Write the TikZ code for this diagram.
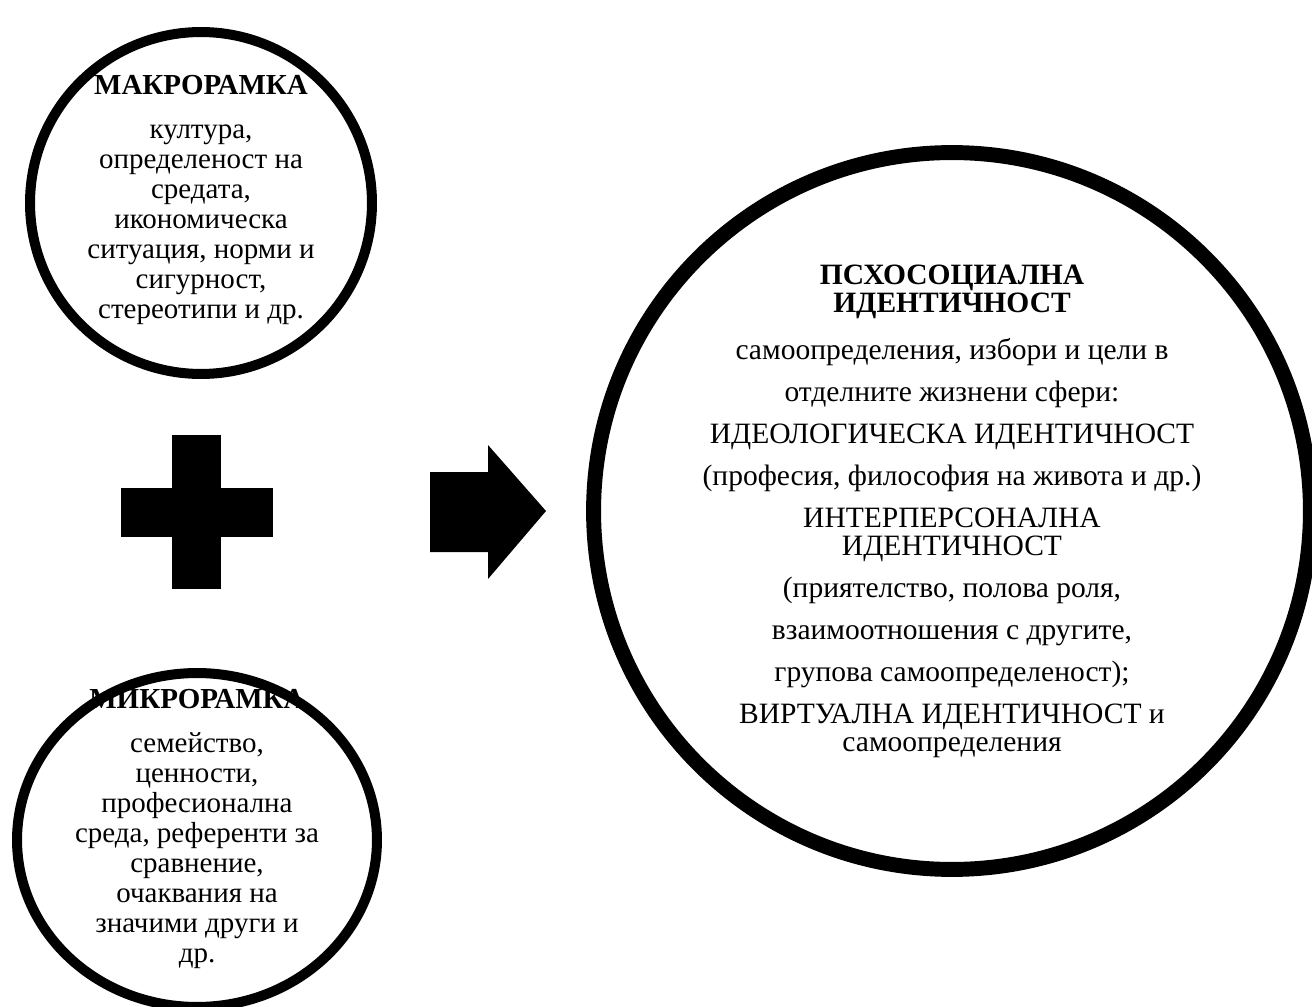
\documentclass[tikz,border=0pt]{standalone}
\usepackage{fontspec}
\setmainfont{Liberation Serif}
\usepackage{tikz}
\usetikzlibrary{shapes.geometric}
\def\ringnode{\node[circle,draw,line width=5.7pt,inner sep=0pt]}
\def\textnode{\node[align=center,inner sep=0pt,font=\fontsize{16.5}{17.1}\selectfont]}

\begin{document}
\begin{tikzpicture}[x=0.02cm,y=-0.02cm]
\useasboundingbox (0,0) rectangle (1312,1007);
\clip (0,0) rectangle (1312,1007);
\ringnode[minimum size=6.84cm] (macro) at (201,203) {};
\node[ellipse,draw,line width=5.7pt,inner sep=0pt,minimum width=7.2cm,minimum height=6.68cm] (micro) at (197,840) {};
\ringnode[line width=8.5pt,minimum size=14.34cm] (psycho) at (952,511) {};
\textnode (macrotext) at (201,200) {\textbf{МАКРОРАМКА}\\[8pt]
  култура,\\ определеност на\\ средата,\\ икономическа\\ ситуация, норми и\\ сигурност,\\ стереотипи и др.};
\textnode (microtext) at (197,829) {\textbf{МИКРОРАМКА}\\[8pt]
  семейство,\\ ценности,\\ професионална\\ среда, референти за\\ сравнение,\\ очаквания на\\ значими други и\\ др.};
\textnode[font=\fontsize{16.8}{15.9}\selectfont] (psychotext) at (952,511) {\textbf{ПСХОСОЦИАЛНА}\\ \textbf{ИДЕНТИЧНОСТ}\\[11pt]
  самоопределения, избори и цели в\\[8pt] отделните жизнени сфери:\\[8pt]
  ИДЕОЛОГИЧЕСКА ИДЕНТИЧНОСТ\\[8pt] (професия, философия на живота и др.)\\[8pt]
  ИНТЕРПЕРСОНАЛНА\\ ИДЕНТИЧНОСТ\\[8pt] (приятелство, полова роля,\\[8pt]
  взаимоотношения с другите,\\[8pt] групова самоопределеност);\\[8pt]
  ВИРТУАЛНА ИДЕНТИЧНОСТ и\\ самоопределения};
\fill (172,435) rectangle (221,589);
\fill (121,488) rectangle (273,537);
\fill (430,472) -- (488,472) -- (488,445) -- (546,511) -- (488,579) -- (488,552) -- (430,552) -- cycle;
\end{tikzpicture}
\end{document}
